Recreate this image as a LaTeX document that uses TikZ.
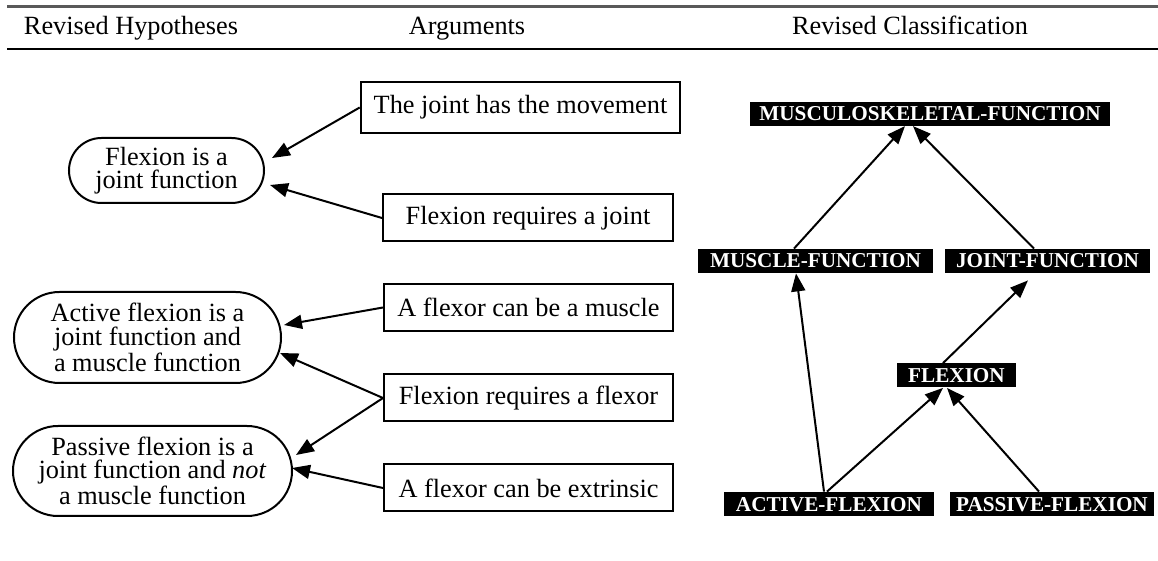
\documentclass[tikz,border=0pt]{standalone}
\usepackage{fontspec}
\setmainfont{Liberation Serif}
\usetikzlibrary{arrows.meta,shapes.misc}

\begin{document}
\begin{tikzpicture}[
    x=0.5pt, y=-0.5pt,
    hyp/.style={rounded rectangle, draw, line width=1pt, align=center, inner sep=0pt, font=\fontsize{13.15}{11.7}\selectfont},
    arg/.style={draw, line width=1pt, inner xsep=6.5pt, inner ysep=0pt, minimum height=23.5pt, font=\fontsize{13.15}{15}\selectfont},
    cls/.style={fill=black, text=white, inner xsep=3pt, inner ysep=0pt, minimum height=12pt, text height=7pt, text depth=0pt, font=\fontsize{10.6}{12}\selectfont\bfseries},
    link/.style={-{Triangle[length=9pt,width=7pt]}, line width=1pt},
    head/.style={anchor=base, inner sep=0pt, font=\fontsize{13.15}{15}\selectfont},
]
\useasboundingbox (0,0) rectangle (1158,561);

% Table rules and column heads
\draw[line width=1.2pt, black!65] (7,6.7) -- (1158,6.7);
\draw[line width=0.8pt] (7,49) -- (1158,49);
\node[head] (hhyp) at (131,35) {Revised Hypotheses};
\node[head] (harg) at (467,35) {Arguments};
\node[head] (hcls) at (910,35) {Revised Classification};

% Hypotheses
\node[hyp, minimum width=97.5pt, minimum height=32.5pt] (hyp1) at (166.5,170.5) {Flexion is a\\joint function};
\node[hyp, minimum width=133.5pt, minimum height=45.5pt] (hyp2) at (147.5,337.5) {Active flexion is a\\joint function and\\a muscle function};
\node[hyp, minimum width=139.5pt, minimum height=45pt] (hyp3) at (152.5,471) {Passive flexion is a\\joint function and \textit{not}\\a muscle function};

% Arguments
\node[arg, minimum height=25.5pt] (movement) at (520.5,107.5) {The joint has the movement};
\node[arg, minimum width=145pt] (needjoint) at (528,218) {Flexion requires a joint};
\node[arg, minimum width=144.5pt] (muscle) at (528.5,307.5) {A flexor can be a muscle};
\node[arg, minimum width=144.5pt] (needflexor) at (528.5,398) {Flexion requires a flexor};
\node[arg, minimum width=144.5pt] (extrinsic) at (528.5,488) {A flexor can be extrinsic};

\draw[link] (movement.west) -- ([shift={(7,-12.5)}]hyp1.east);
\draw[link] (needjoint.west) -- ([shift={(5,14.5)}]hyp1.east);
\draw[link] (muscle.west) -- ([shift={(2,-12.5)}]hyp2.east);
\draw[link] (needflexor.west) -- ([shift={(-2,15.5)}]hyp2.east);
\draw[link] (needflexor.west) -- ([shift={(3,-16)}]hyp3.east);
\draw[link] (extrinsic.west) -- ([shift={(-1,-3)}]hyp3.east);

% Classification
\node[cls, minimum width=180pt] (msk) at (930,113.7) {MUSCULOSKELETAL-FUNCTION};
\node[cls, minimum width=117.5pt] (musclefn) at (815.5,261) {MUSCLE-FUNCTION};
\node[cls, minimum width=102.5pt] (jointfn) at (1047.5,261) {JOINT-FUNCTION};
\node[cls, minimum width=59.5pt] (flexion) at (956.5,375.5) {FLEXION};
\node[cls, minimum width=105pt] (active) at (829,504) {ACTIVE-FLEXION};
\node[cls, minimum width=102pt] (passive) at (1052,504) {PASSIVE-FLEXION};

\draw[link] ([shift={(-21.5,0)}]musclefn.north) -- ([shift={(-25,0)}]msk.south);
\draw[link] ([shift={(-13.5,0)}]jointfn.north) -- ([shift={(-17,0)}]msk.south);
\draw[link] ([shift={(-13.5,0)}]flexion.north) -- ([shift={(-19.5,7)}]jointfn.south);
\draw[link] ([shift={(-5,0)}]active.north) -- ([shift={(-19.5,0)}]musclefn.south);
\draw[link] ([shift={(-2,0)}]active.north) -- ([shift={(-13.5,0)}]flexion.south);
\draw[link] ([shift={(-13,0)}]passive.north) -- ([shift={(-9.5,0)}]flexion.south);
\end{tikzpicture}
\end{document}
